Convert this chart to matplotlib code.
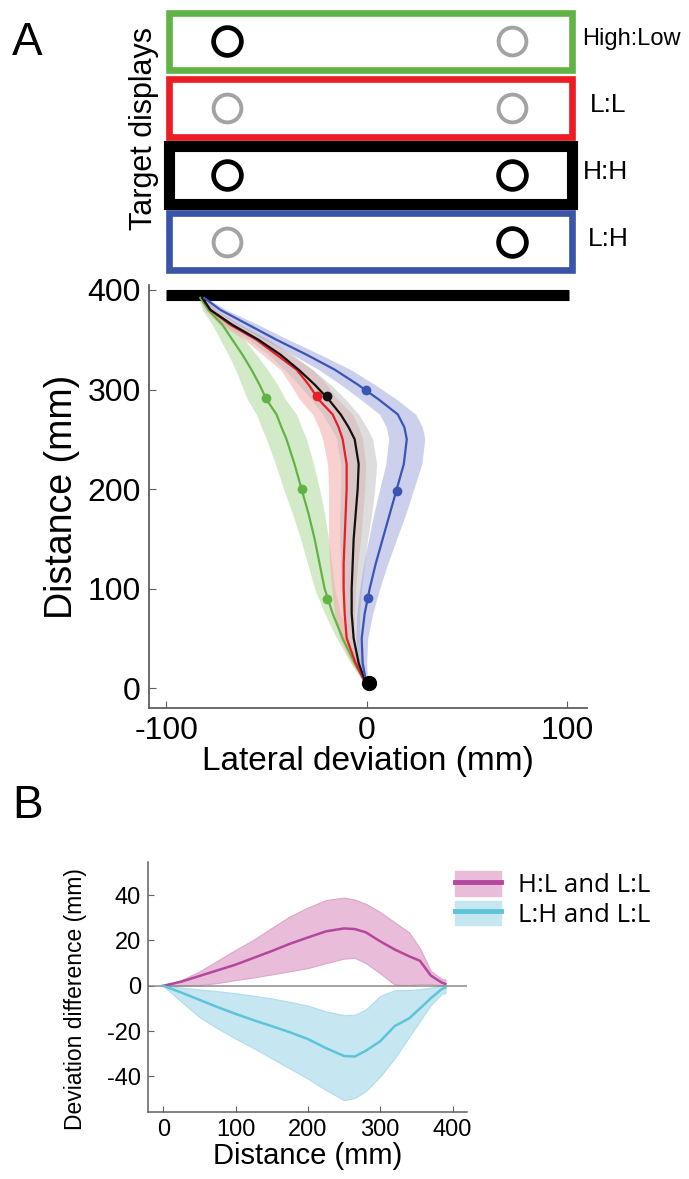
import matplotlib
matplotlib.use("Agg")
import matplotlib.pyplot as plt
from matplotlib.patches import Rectangle, Patch
from matplotlib.lines import Line2D
import numpy as np

plt.rcParams['font.family'] = ['Liberation Sans', 'DejaVu Sans']
plt.rcParams['axes.unicode_minus'] = False

# ---- panel A: target displays ----
display_labels = ["High:Low", "L:L", "H:H", "L:H"]
display_colors = ['#62b346', '#ec1c24', '#000000', '#3a55a8']
display_widths = [4.8, 4.8, 8.0, 4.8]
# value of left / right target: 1 = high (black), 0 = low (grey)
left_target = [1, 0, 1, 0]
right_target = [0, 0, 1, 1]
target_x = [-69.5, 72.5]

# ---- panel A: trajectories ----
dist = [392, 380, 365, 350, 335, 320, 305, 290, 275, 262, 250, 225, 200, 175, 150, 125, 100, 75, 50, 25, 3]
green_x = [-83, -79, -72, -67, -62, -57.5, -53.5, -50, -45, -42.5, -40, -36, -32.5, -29, -26, -23.5, -21, -17, -12, -6, 0]
red_x = [-82, -78, -68, -55, -45, -35, -29, -24, -17, -14, -12, -10, -10, -10.5, -11, -11.5, -11.5, -11, -10, -5.5, 0]
black_x = [-82, -78, -67, -54, -43, -34, -26, -19, -13, -9, -6, -4, -4.5, -5.5, -6.5, -7, -7.5, -7.5, -6.5, -4, 0]
blue_x = [-81, -73, -59, -45, -30, -16, -4.5, 6, 15.5, 18.8, 20, 18.5, 15, 11.5, 8, 4.5, 1.5, -1, -2.5, -2, 0]
green_sd = [1, 3, 5, 6, 7, 8, 9, 9.5, 10, 10, 10, 9.5, 9, 8, 7, 6, 5, 4, 3, 2, 0.5]
red_sd = [1, 3, 5, 6, 7, 8, 9, 9.5, 10, 10, 10, 9.5, 9, 8.5, 8, 7, 6, 5, 3.5, 2, 0.5]
black_sd = [1, 2, 4, 5, 6, 7, 8, 8.5, 9, 9, 9, 9, 8.5, 8, 7, 6, 5, 4, 3, 2, 0.5]
blue_sd = [1, 3, 5, 6, 7, 8, 8.5, 9, 9, 9, 9, 9, 8.5, 8, 7, 6, 5, 4, 3, 2, 0.5]

# dots along trajectories
green_dots = ([-50, -32.5, -20], [291, 200, 90])
red_dots = ([-25], [293])
black_dots = ([-20], [293])
blue_dots = ([-0.5, 15, 0.5], [300, 198, 91])

# ---- panel B: deviation differences ----
dist_b = [0, 25, 50, 75, 100, 125, 150, 175, 200, 225, 250, 265, 280, 300, 320, 340, 355, 370, 385, 390]
hl_mean = [0, 1.8, 4.3, 6.8, 9.3, 12.3, 15.3, 18.5, 21.3, 24, 25.3, 25, 23.6, 19.6, 16, 13, 11, 4.5, 1.4, 0.8]
hl_upper = [0, 2.5, 6.3, 11, 15.8, 20.3, 25.5, 30.6, 34.5, 37.8, 38.9, 38, 36.2, 32.5, 28, 23.5, 16.5, 6.5, 3, 2.8]
hl_lower = [0, 0, 0.3, 1.2, 2.5, 3.7, 5, 6.4, 7.8, 10, 12, 12.3, 10, 5.5, 0.5, 0.3, 0.8, 0.8, 0.2, 0]
lh_mean = [0, -3, -6.2, -9.4, -12.4, -15.2, -17.8, -20.5, -23.5, -27.5, -31, -31.2, -28.7, -24.5, -17.8, -14.4, -10, -5.5, -1.5, -0.8]
lh_upper = [0, -0.8, -1.6, -2.4, -3.3, -4.4, -5.6, -7.1, -8.8, -11.3, -13, -12.8, -10.5, -4.5, -2, -1.9, -1.5, -0.8, 0, 0]
lh_lower = [0, -7, -13.8, -18.8, -23.3, -27.5, -32, -36.5, -41, -46, -50.5, -49.5, -46.5, -40, -32, -22.5, -15.5, -8.5, -3.6, -3.3]

W, H = 689, 1179
fig = plt.figure(figsize=(W / 100, H / 100), dpi=100)

def frac(x0, y0, x1, y1):
    # pixel box -> figure fraction rect
    return [x0 / W, 1 - y1 / H, (x1 - x0) / W, (y1 - y0) / H]

xlim_a = (-108.6, 109.9)
spine_col = '#606060'

# target display boxes
ax_t = fig.add_axes(frac(149, 8, 587, 275))
ax_t.set_xlim(*xlim_a)
ax_t.set_ylim(4, 0)
ax_t.axis('off')
label_x = [107.5, 111.5, 108, 110.5]
for i, (lab, col, lw) in enumerate(zip(display_labels, display_colors, display_widths)):
    ax_t.add_patch(Rectangle((-98.6, i + 0.07), 201, 0.86, fill=False,
                             edgecolor=col, lw=lw, clip_on=False))
    for tx, val in zip(target_x, [left_target[i], right_target[i]]):
        c = '#000000' if val else '#a3a3a3'
        ax_t.plot(tx, i + 0.5, 'o', ms=20, mfc='none', mec=c,
                  mew=3.4 if val else 2.8, clip_on=False)
    ax_t.text(label_x[i], i + 0.46, lab, ha='left', va='center',
              fontsize=17 if i == 0 else 19)
fig.text(144 / W, 1 - 128 / H, "Target displays", rotation=90,
         ha='center', va='center', fontsize=22)
fig.text(12 / W, 1 - 55 / H, "A", fontsize=33, ha='left', va='baseline')

# trajectories
ax_a = fig.add_axes(frac(149, 285, 587, 708))
ax_a.set_xlim(*xlim_a)
ax_a.set_ylim(-20, 405)
ax_a.plot([-100, 101], [395, 395], color='black', lw=8, solid_capstyle='butt')

series = [
    (green_x, green_sd, '#62b346', '#a8d795', green_dots),
    (red_x, red_sd, '#ec1c24', '#f4a3a3', red_dots),
    (black_x, black_sd, '#111111', '#bdbdbd', black_dots),
    (blue_x, blue_sd, '#3a55b4', '#9aa3dc', blue_dots),
]
for xs, sd, col, band, dots in series:
    xs = np.array(xs)
    sd = np.array(sd)
    ax_a.fill_betweenx(dist, xs - sd, xs + sd, color=band, alpha=0.5, lw=0)
for xs, sd, col, band, dots in series:
    ax_a.plot(xs, dist, color=col, lw=1.6)
    ax_a.plot(dots[0], dots[1], 'o', color=col, ms=6)
ax_a.plot([1], [5], 'o', color='black', ms=10)

ax_a.spines[['top', 'right']].set_visible(False)
for s in ['left', 'bottom']:
    ax_a.spines[s].set_color(spine_col)
    ax_a.spines[s].set_linewidth(1.3)
ax_a.set_xticks([-100, 0, 100])
ax_a.set_yticks([0, 100, 200, 300, 400])
ax_a.tick_params(direction='in', length=5, color=spine_col, labelsize=23, pad=6)
ax_a.set_xlabel("Lateral deviation (mm)", fontsize=24, labelpad=0)
ax_a.set_ylabel("Distance (mm)", fontsize=27)
ax_a.yaxis.set_label_coords(-0.158, 0.5)

# panel B
fig.text(12 / W, 1 - 818 / H, "B", fontsize=33, ha='left', va='baseline')
ax_b = fig.add_axes(frac(148, 862, 467, 1112))
ax_b.set_xlim(-21, 420)
ax_b.set_ylim(-55.7, 54.6)
pink_fill, pink_line = '#e9bcd9', '#b4479c'
cyan_fill, cyan_line = '#c6e6f1', '#5cc5d8'
ax_b.fill_between(dist_b, hl_lower, hl_upper, color=pink_fill, lw=0.8, edgecolor='#dca6ca')
ax_b.fill_between(dist_b, lh_lower, lh_upper, color=cyan_fill, lw=0.8, edgecolor='#b2dcec')
ax_b.axhline(0, color='#8a8a8a', lw=1.1)
ax_b.plot(dist_b, hl_mean, color=pink_line, lw=1.8)
ax_b.plot(dist_b, lh_mean, color=cyan_line, lw=1.8)

ax_b.spines[['top', 'right']].set_visible(False)
for s in ['left', 'bottom']:
    ax_b.spines[s].set_color(spine_col)
    ax_b.spines[s].set_linewidth(1.1)
ax_b.set_xticks([0, 100, 200, 300, 400])
ax_b.set_yticks([-40, -20, 0, 20, 40])
ax_b.tick_params(direction='in', length=4, color=spine_col, labelsize=17, pad=5)
ax_b.set_xlabel("Distance (mm)", fontsize=21, labelpad=1)
ax_b.set_ylabel("Deviation difference (mm)", fontsize=16.5)
ax_b.yaxis.set_label_coords(-0.19, 0.45)

handles = [(Patch(color=pink_fill), Line2D([], [], color=pink_line, lw=3.5)),
           (Patch(color=cyan_fill), Line2D([], [], color=cyan_line, lw=3.5))]
ax_b.legend(handles, ["H:L and L:L", "L:H and L:L"], loc='upper left',
            bbox_to_anchor=(455 / W, 1 - 871 / H), bbox_transform=fig.transFigure,
            frameon=False, borderaxespad=0, borderpad=0, handlelength=1.8,
            handleheight=1.1, handletextpad=0.65, labelspacing=0.1,
            prop={'family': ['Open Sans', 'DejaVu Sans'], 'size': 18.5})

fig.savefig("out.png", dpi=100)
